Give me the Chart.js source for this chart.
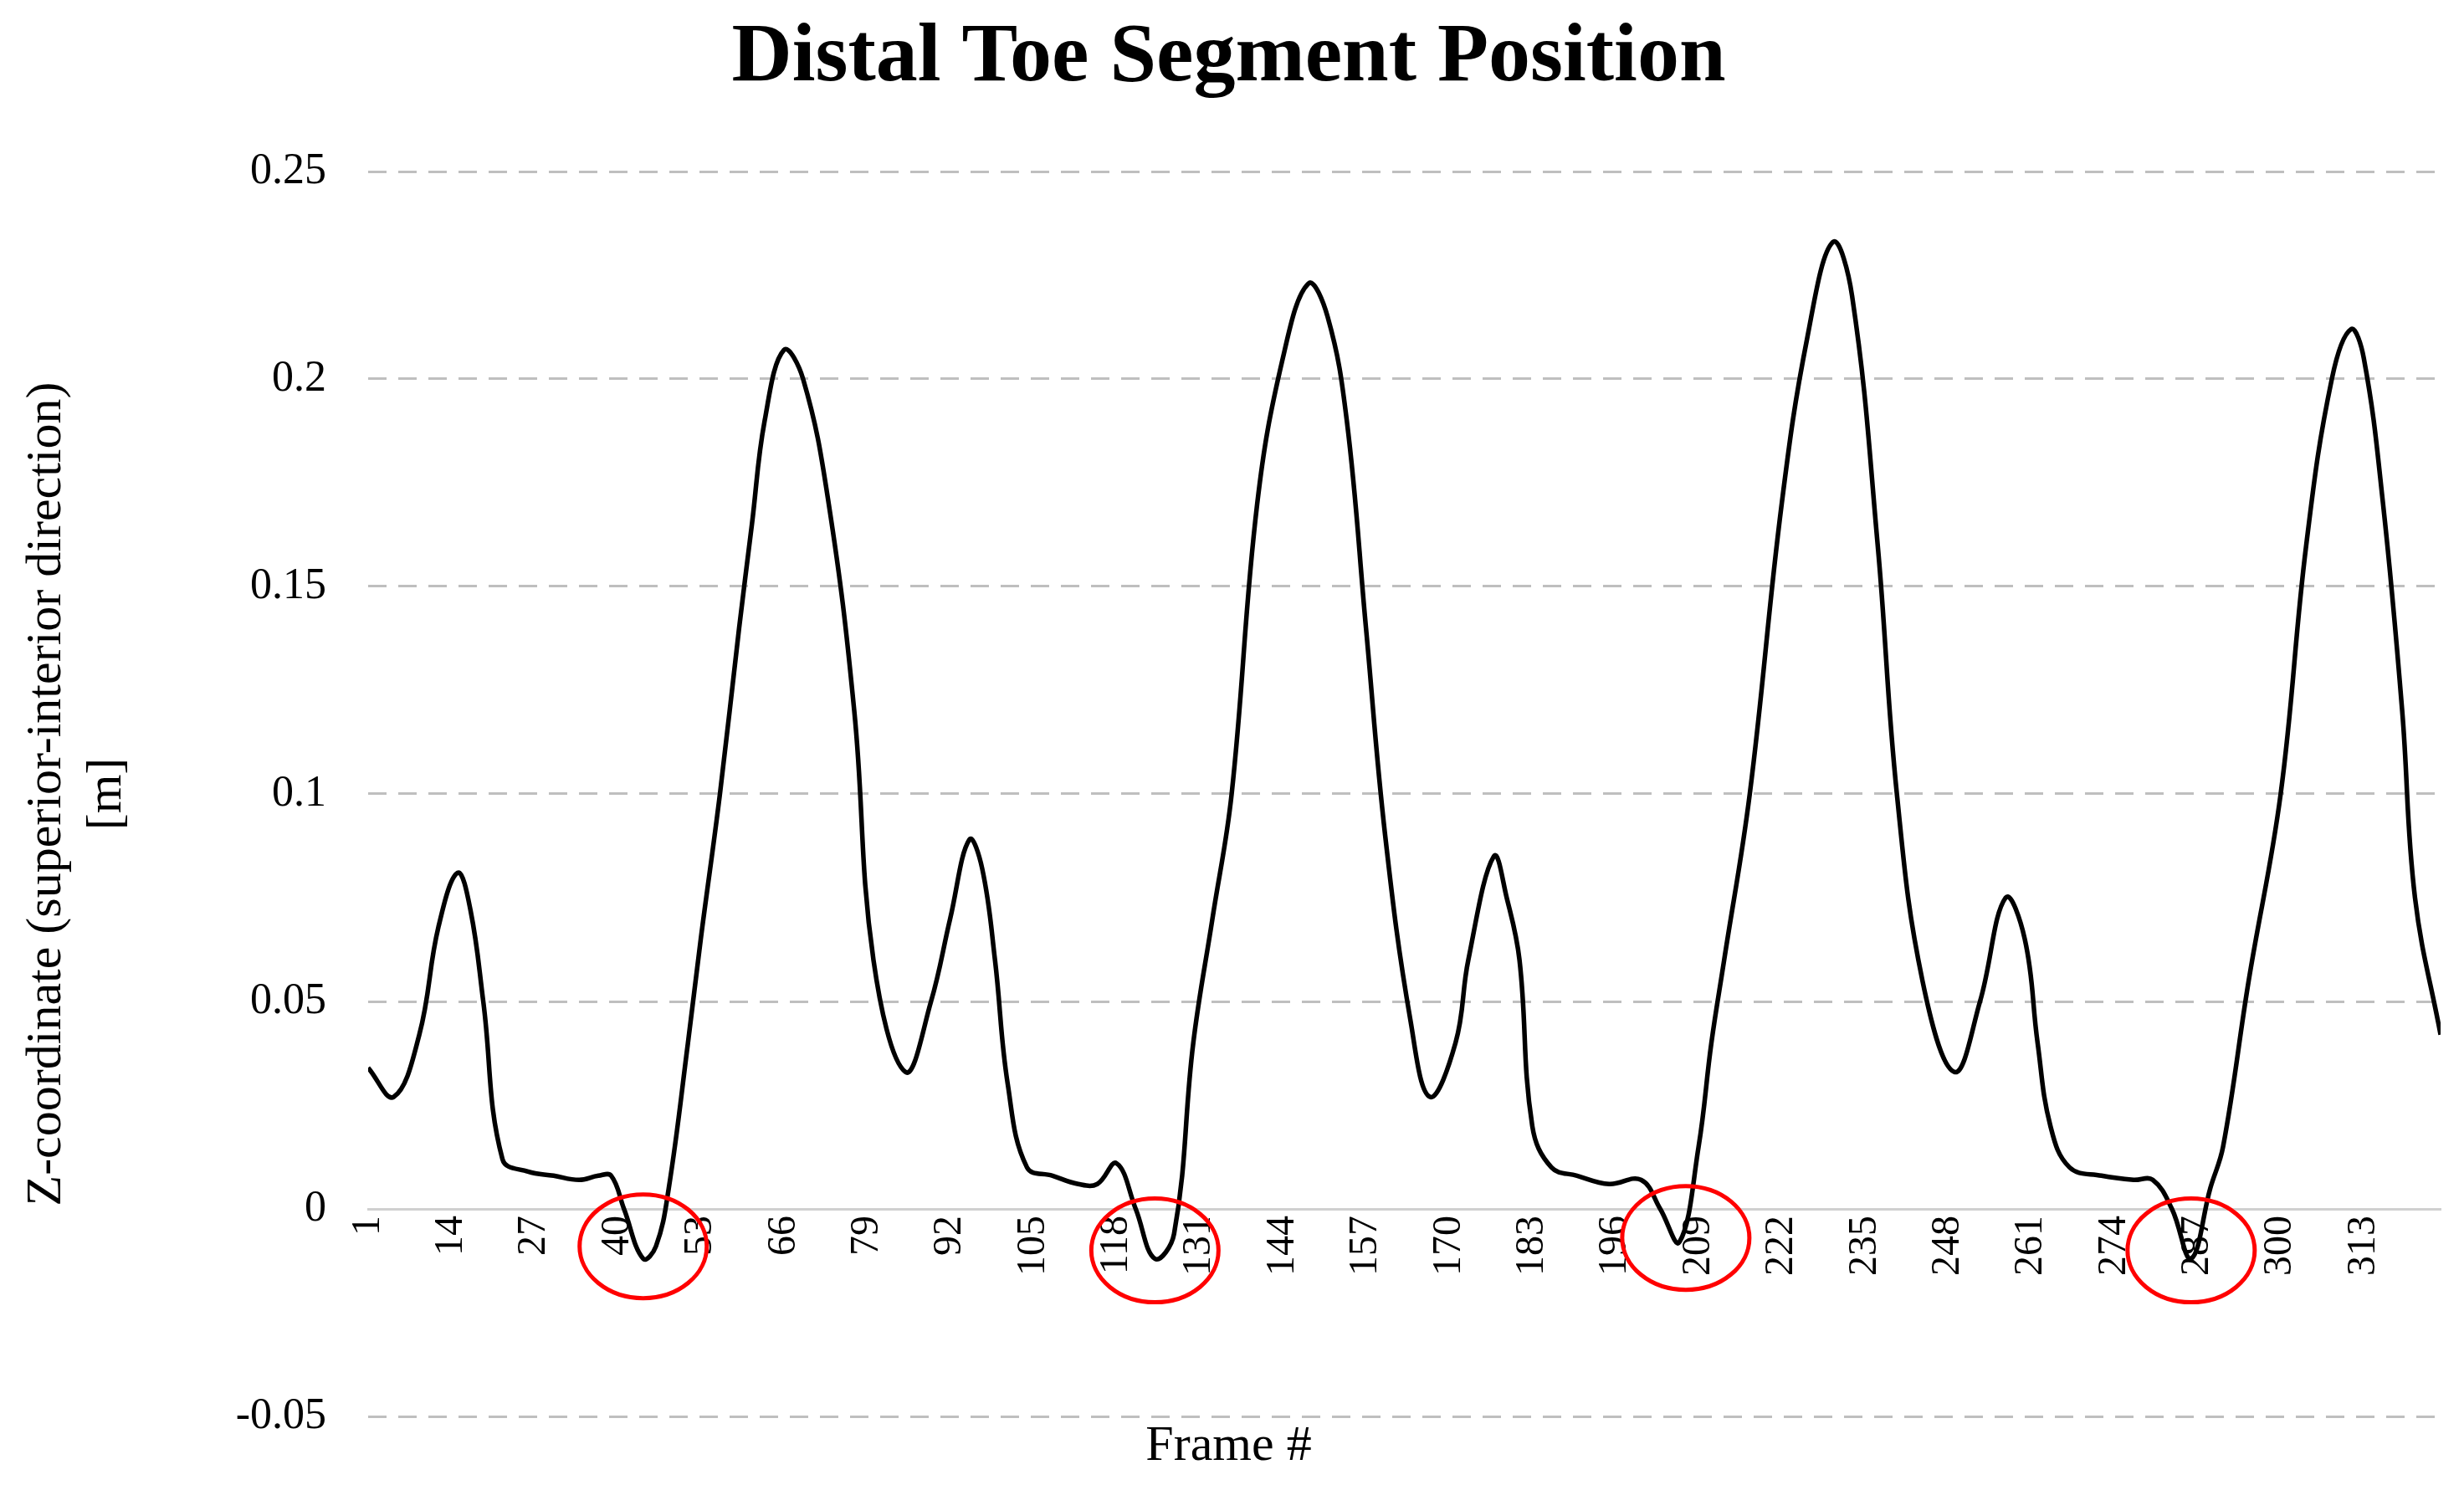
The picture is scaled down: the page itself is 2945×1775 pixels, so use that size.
<!DOCTYPE html>
<html><head><meta charset="utf-8">
<script src="https://cdn.jsdelivr.net/npm/chart.js@4.4.1/dist/chart.umd.min.js"></script>
<style>html,body{margin:0;padding:0;background:#fff}</style>
</head><body><canvas id="c" width="2945" height="1775"></canvas>
<script>
const frames = [1,5,9,12,15,17,19,22,26,30,34,37,39,41,44,46,48,51,53,56,59,61,63,66,69,73,77,80,85,89,92,95,97,99,101,104,108,112,115,118,121,124,127,130,133,136,140,144,148,151,154,157,160,164,167,171,173,177,179,181,183,186,190,195,200,203,206,209,211,213,217,222,226,230,233,237,240,244,249,253,257,260,262,264,267,272,277,280,283,286,289,291,295,300,304,308,311,313,316,319,321,325];
const zValues = [0.034,0.027,0.042,0.068,0.081,0.072,0.05,0.012,0.009,0.008,0.007,0.008,0.008,0.0,-0.012,-0.009,0.005,0.04,0.065,0.1,0.14,0.165,0.19,0.207,0.2,0.17,0.12,0.06,0.033,0.05,0.07,0.089,0.082,0.06,0.03,0.01,0.008,0.006,0.006,0.011,0.0,-0.012,-0.006,0.04,0.07,0.1,0.17,0.205,0.223,0.215,0.19,0.14,0.09,0.045,0.027,0.04,0.06,0.085,0.075,0.06,0.02,0.01,0.008,0.006,0.007,0.0,-0.008,0.015,0.04,0.06,0.1,0.17,0.21,0.233,0.22,0.16,0.1,0.055,0.033,0.05,0.075,0.065,0.04,0.02,0.01,0.008,0.007,0.007,0.0,-0.012,0.005,0.015,0.055,0.1,0.16,0.2,0.212,0.205,0.17,0.12,0.075,0.042];
const xTickLabels = [1,14,27,40,53,66,79,92,105,118,131,144,157,170,183,196,209,222,235,248,261,274,287,300,313];
const yTickValues = [-0.05,0,0.05,0.1,0.15,0.2,0.25];
const circleFrames = [44,124,207,286];
const circleValues = [-0.009,-0.010,-0.007,-0.010];
const chartTitle = 'Distal Toe Segment Position';
const xTitle = 'Frame #';
const yTitle = ['Z-coordinate (superior-interior direction)','[m]'];

const FONT = "'Liberation Serif', 'DejaVu Serif', serif";
const circles = {
  id:'circles',
  afterDatasetsDraw(chart){
    const {ctx, scales:{x,y}} = chart;
    ctx.save();
    ctx.strokeStyle = '#ff0000'; ctx.lineWidth = 5;
    circleFrames.forEach((f,i)=>{
      ctx.beginPath();
      ctx.ellipse(x.getPixelForValue(f), y.getPixelForValue(circleValues[i]), 76, 62, 0, 0, Math.PI*2);
      ctx.stroke();
    });
    ctx.restore();
  }
};
new Chart(document.getElementById('c'), {
  type:'line',
  data:{datasets:[{data:frames.map((f,i)=>({x:f,y:zValues[i]})),borderColor:'#000',borderWidth:5.5,pointRadius:0,tension:0.4,fill:false}]},
  options:{
    responsive:false, devicePixelRatio:1, animation:false,
    layout:{padding:{left:20,right:28,top:10,bottom:10}},
    plugins:{
      legend:{display:false}, tooltip:{enabled:false},
      title:{display:true,text:chartTitle,color:'#000',font:{family:FONT,size:100,weight:'bold'},padding:{top:0,bottom:75}},
      subtitle:{display:true,position:'bottom',text:xTitle,color:'#000',font:{family:FONT,size:60},padding:{top:0,bottom:0}}
    },
    scales:{
      x:{type:'linear',min:1,max:325,position:{y:0},
        afterBuildTicks(s){s.ticks = xTickLabels.map(v=>({value:v}));},
        ticks:{autoSkip:false,minRotation:90,maxRotation:90,color:'#000',font:{family:FONT,size:48},padding:8},
        grid:{display:false,drawTicks:false},
        border:{display:true,color:'#d0d0d0',width:3}},
      y:{min:-0.05,max:0.25,
        afterBuildTicks(s){s.ticks = yTickValues.map(v=>({value:v}));},
        afterFit(s){s.width = 420;},
        ticks:{color:'#000',font:{family:FONT,size:52},padding:50,callback:v=>String(Number(v.toFixed(2)))},
        title:{display:true,text:yTitle,color:'#000',font:{family:FONT,size:60},padding:{top:0,bottom:20}},
        grid:{color:'#bfbfbf',lineWidth:3,drawTicks:false},
        border:{display:false,dash:[22,14]}}
    }
  },
  plugins:[circles]
});
</script></body></html>
